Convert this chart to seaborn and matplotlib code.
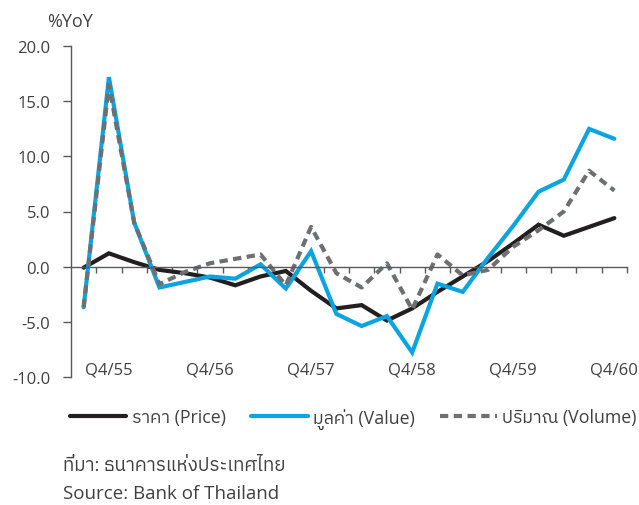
import matplotlib
matplotlib.use("Agg")
import matplotlib.pyplot as plt
from matplotlib import font_manager
from matplotlib.ft2font import FT2Font
from matplotlib.ticker import FixedLocator, FormatStrFormatter
import seaborn as sns
import numpy as np
import pandas as pd

# ---------------- data ----------------
quarters = ["Q3/55", "Q4/55", "Q1/56", "Q2/56", "Q3/56", "Q4/56", "Q1/57", "Q2/57",
            "Q3/57", "Q4/57", "Q1/58", "Q2/58", "Q3/58", "Q4/58", "Q1/59", "Q2/59",
            "Q3/59", "Q4/59", "Q1/60", "Q2/60", "Q3/60", "Q4/60"]
price = [-0.1, 1.2, 0.4, -0.3, -0.6, -1.0, -1.7, -0.9, -0.4, -2.2, -3.8, -3.5,
         -4.9, -3.8, -2.3, -0.9, 0.5, 2.1, 3.8, 2.8, 3.6, 4.4]
value = [-3.7, 17.2, 4.0, -1.9, -1.4, -0.9, -1.1, 0.2, -2.0, 1.4, -4.3, -5.4,
         -4.5, -7.8, -1.55, -2.3, 0.8, 3.7, 6.8, 7.9, 12.5, 11.6]
volume = [-3.7, 16.5, 4.0, -1.6, -0.5, 0.3, 0.7, 1.1, -1.7, 3.6, -0.6, -1.9,
          0.3, -3.9, 1.1, -0.8, -0.3, 1.8, 3.3, 5.0, 8.7, 6.9]
tick_labels = ["Q4/55", "Q4/56", "Q4/57", "Q4/58", "Q4/59", "Q4/60"]
series_names = ["ราคา (Price)", "มูลค่า (Value)", "ปริมาณ (Volume)"]
y_label = "%YoY"
source_th = "ที่มา: ธนาคารแห่งประเทศไทย"
source_en = "Source: Bank of Thailand"

# ---------------- fonts ----------------
def find_thai_family():
    cands = []
    for f in font_manager.fontManager.ttflist:
        try:
            cm = FT2Font(f.fname).get_charmap()
        except Exception:
            continue
        if 0x0E01 in cm and 0x0E32 in cm:
            score = 0
            if "thai" in f.name.lower():
                score -= 2
            if "looped" in f.name.lower():
                score += 1
            if "sans" in f.name.lower():
                score -= 1
            cands.append((score, f.name))
    cands.sort()
    return cands[0][1] if cands else None

sns.set_theme(style="white")
thai = find_thai_family()
fam = ["Open Sans"]
if thai:
    fam.append(thai)
fam.append("DejaVu Sans")
plt.rcParams["font.family"] = fam

TXT = "#404040"
AX = "#595959"

# ---------------- figure ----------------
W, H = 639, 506
fig = plt.figure(figsize=(W / 100, H / 100), dpi=100)
ax = fig.add_axes([71 / W, 1 - 377.7 / H, (627 - 71) / W, (377.7 - 47.3) / H])

x = np.arange(len(quarters))
df = pd.DataFrame({"x": x, "price": price, "value": value, "volume": volume})

sns.lineplot(data=df, x="x", y="price", color="#231F20", lw=3.0, ax=ax,
             label=series_names[0], solid_joinstyle="miter")
sns.lineplot(data=df, x="x", y="value", color="#0AA5E0", lw=3.0, ax=ax,
             label=series_names[1], solid_joinstyle="miter")
sns.lineplot(data=df, x="x", y="volume", color="#6E6F72", lw=3.0, ax=ax,
             label=series_names[2], linestyle=(0, (2.0, 1.3)))

ax.set_xlim(-0.5, len(quarters) - 0.5)
ax.set_ylim(-10, 20)
ax.set_xlabel("")
ax.set_ylabel("")

for s in ["top", "right"]:
    ax.spines[s].set_visible(False)
ax.spines["left"].set_color(AX)
ax.spines["left"].set_linewidth(1.0)
ax.spines["bottom"].set_position(("data", 0))
ax.spines["bottom"].set_color(AX)
ax.spines["bottom"].set_linewidth(1.0)

ax.set_yticks(np.arange(-10, 21, 5))
ax.yaxis.set_major_formatter(FormatStrFormatter("%.1f"))
ax.tick_params(axis="y", direction="out", length=6, width=1, color=AX,
               labelsize=12, labelcolor=TXT, pad=9, left=True)

label_pos = [quarters.index(q) for q in tick_labels]
ax.set_xticks(label_pos)
ax.set_xticklabels(tick_labels)
ax.xaxis.set_minor_locator(FixedLocator(np.arange(0.5, len(quarters), 1.0)))
ax.tick_params(axis="x", which="major", length=0, labelsize=12,
               labelcolor=TXT, pad=68)
ax.tick_params(axis="x", which="minor", direction="out", length=4.5,
               width=1, color=AX, bottom=True)

ax.get_legend().remove()
handles, labels = ax.get_legend_handles_labels()
fig.legend(handles, labels, loc="center", bbox_to_anchor=(353 / W, 1 - 419 / H),
           ncol=3, frameon=False, fontsize=12.8, handlelength=3.2,
           handletextpad=0.3, columnspacing=1.4, labelcolor=TXT)

fig.text(47 / W, 1 - 22 / H, y_label, fontsize=13, color=TXT, va="center", ha="left")
fig.text(63 / W, 1 - 466 / H, source_th, fontsize=13.5, color=TXT, va="center", ha="left")
fig.text(63 / W, 1 - 494 / H, source_en, fontsize=13.5, color=TXT, va="center", ha="left")

fig.savefig("out.png", dpi=100)
